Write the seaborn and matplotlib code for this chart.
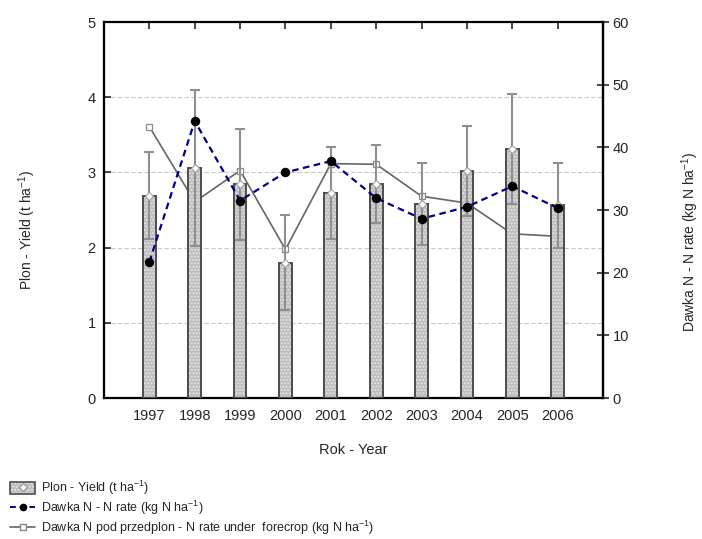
import numpy as np
import matplotlib
matplotlib.use("Agg")
import matplotlib.pyplot as plt
import seaborn as sns
from matplotlib.patches import Patch
from matplotlib.lines import Line2D

sns.set_style("white")
plt.rcParams['font.family'] = ['Liberation Sans', 'DejaVu Sans']

# data
years = ['1997', '1998', '1999', '2000', '2001', '2002', '2003', '2004', '2005', '2006']
yield_mean = [2.69, 3.06, 2.84, 1.80, 2.73, 2.85, 2.58, 3.02, 3.31, 2.56]   # t ha-1
yield_err = [0.58, 1.04, 0.74, 0.63, 0.61, 0.52, 0.54, 0.60, 0.73, 0.57]
n_rate = [21.7, 44.2, 31.5, 36.0, 37.8, 31.9, 28.6, 30.5, 33.8, 30.3]      # kg N ha-1
n_forecrop = [43.3, 31.3, 36.3, 23.7, 37.4, 37.3, 32.2, 31.1, 26.2, 25.8]  # kg N ha-1

scale = 60.0 / 5.0  # right axis units per left axis unit
pos = np.arange(len(years))
bar_w = 0.28
fill_col = '#bdbdbd'
edge_col = '#4d4d4d'

fig = plt.figure(figsize=(7.02, 5.39), dpi=100)
ax = fig.add_axes([104/702, 1-398/539, 499/702, 376/539])

# grid lines on the left scale
for g in [1, 2, 3, 4]:
    ax.axhline(g, color='#c8c8c8', lw=0.8, ls=(0, (4, 2)), zorder=0)

# forecrop line sits behind the bars
ax.plot(pos, np.array(n_forecrop) / scale, color='#666666', lw=1.2,
        marker='s', ms=5, mfc='white', mec='#888888', mew=0.9, zorder=1)

sns.barplot(x=years, y=yield_mean, ax=ax, width=bar_w, color=fill_col,
            saturation=1, errorbar=None, edgecolor='#e6e6e6', linewidth=0,
            hatch='.....', zorder=2)
ax.bar(pos, yield_mean, width=bar_w, fill=False, edgecolor=edge_col,
       linewidth=1.4, zorder=3)

ax.errorbar(pos, yield_mean, yerr=yield_err, fmt='none', ecolor='#8f8f8f',
            elinewidth=1.5, capsize=3.8, capthick=1.5, zorder=4)
ax.plot(pos, yield_mean, ls='none', marker='D', ms=4.5, mfc='white',
        mec='#a0a0a0', mew=0.8, zorder=5)

ax.plot(pos, np.array(n_rate) / scale, color='#00008b', lw=1.6,
        ls=(0, (3, 2)), marker='o', ms=5.8, mfc='black', mec='black', zorder=6)

ax.set_xlim(-1, 10)
ax.set_ylim(0, 5)
ax.set_yticks([0, 1, 2, 3, 4, 5])
ax.set_xticks(pos)
ax.set_xticklabels(years)
ax.set_xlabel('Rok - Year', fontsize=10.5, labelpad=14)
ax.set_ylabel('Plon - Yield (t ha$^{\\mathregular{-1}}$)', fontsize=10)
ax.yaxis.label.set_verticalalignment('center')
ax.yaxis.set_label_coords((27 - 104) / 499, (398 - 230) / 376)
ax.tick_params(axis='x', bottom=False, top=True, direction='in', length=5,
               width=1.2, labelsize=10.5, pad=8)
ax.tick_params(axis='y', left=True, direction='in', length=5, width=1.2,
               labelsize=10.5, pad=6)
for sp in ax.spines.values():
    sp.set_linewidth(1.6)
    sp.set_color('black')

ax2 = ax.secondary_yaxis('right', functions=(lambda y: y * scale, lambda y: y / scale))
ax2.set_yticks([0, 10, 20, 30, 40, 50, 60])
ax2.tick_params(direction='inout', length=8, width=1.2, labelsize=10.5, pad=3)
ax2.spines['right'].set_linewidth(1.6)
ax2.set_ylabel('Dawka N - N rate (kg N ha$^{\\mathregular{-1}}$)', fontsize=10)
ax2.yaxis.label.set_verticalalignment('center')
ax2.yaxis.set_label_coords((690 - 104) / 499, (398 - 242) / 376, transform=ax.transAxes)

handles = [
    (Patch(facecolor=fill_col, edgecolor='#e6e6e6', hatch='.....', lw=0),
     Patch(fill=False, edgecolor=edge_col, lw=1.2),
     Line2D([], [], ls='none', marker='D', ms=4.5, mfc='white', mec='#a0a0a0')),
    Line2D([], [], color='#00008b', lw=1.4, ls=(0, (3, 2)), marker='o', ms=4.5,
           mfc='black', mec='black'),
    Line2D([], [], color='#666666', lw=1.2, marker='s', ms=4.5, mfc='white',
           mec='#888888'),
]
labels = [
    'Plon - Yield (t ha$^{\\mathregular{-1}}$)',
    'Dawka N - N rate (kg N ha$^{\\mathregular{-1}}$)',
    'Dawka N pod przedplon - N rate under  forecrop (kg N ha$^{\\mathregular{-1}}$)',
]
fig.legend(handles, labels, loc='upper left', bbox_to_anchor=(5/702, 1-474/539),
           frameon=False, fontsize=9, handlelength=2.0, handleheight=1.0,
           labelspacing=0.15, handletextpad=0.5, borderaxespad=0)

fig.savefig('out.png', dpi=100)
